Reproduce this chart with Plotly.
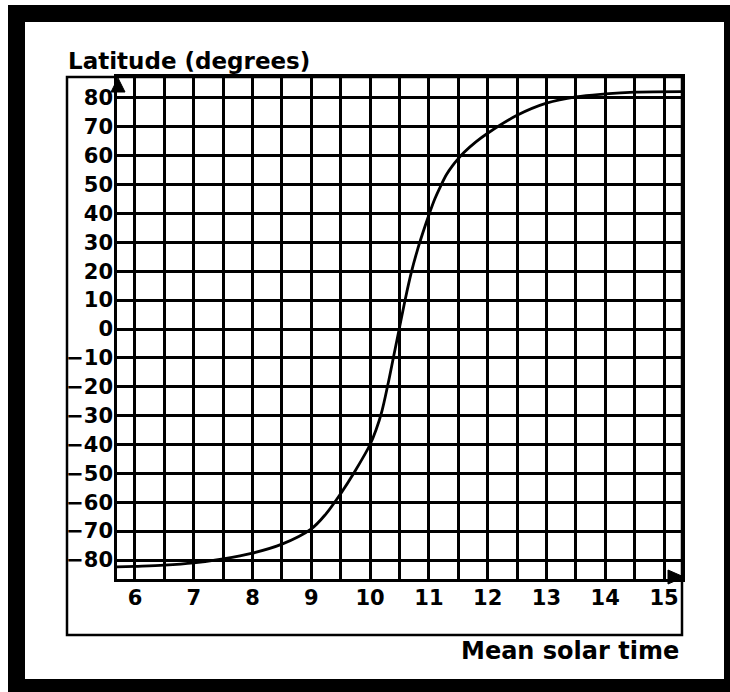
import plotly.graph_objects as go

# Latitude of the sub-point versus mean solar time
solar_time = [5.69, 6.0, 6.5, 7.0, 7.5, 8.0, 8.5, 9.0, 9.25, 9.5, 9.75, 10.0,
              10.1, 10.2, 10.3, 10.4, 10.5, 10.6, 10.7, 10.8, 10.9, 11.0, 11.1,
              11.2, 11.3, 11.4, 11.5, 11.6, 11.8, 12.0, 12.5, 13.0, 13.5, 14.0,
              14.5, 15.31]
latitude = [-82.4, -82.2, -81.8, -81.0, -79.6, -77.6, -74.5, -69.2, -64.0, -57.0,
            -49.0, -40.0, -35.0, -28.5, -19.5, -9.5, 0.5, 10.5, 19.5, 27.0, 33.5,
            39.5, 45.0, 49.5, 53.5, 56.5, 59.0, 61.2, 64.8, 67.8, 74.0, 78.2,
            80.4, 81.4, 82.0, 82.2]

hour_ticks = [6, 7, 8, 9, 10, 11, 12, 13, 14, 15]
lat_ticks = [80, 70, 60, 50, 40, 30, 20, 10, 0, -10, -20, -30, -40, -50, -60, -70, -80]

x_range = [5.694, 15.306]
y_range = [-86.58, 87.27]

half_hours = [h + d for h in hour_ticks for d in (0.0, 0.5)][:-1]
half_text = [str(int(v)) if float(v).is_integer() else "" for v in half_hours]
lat_text = [("\u2212" + str(-v)) if v < 0 else str(v) for v in lat_ticks]

FONT = "DejaVu Sans"
W, H = 730, 692
L, R, T, B = 117, 48, 77, 113
PW, PH = W - L - R, H - T - B


def px(xp):
    return (xp - L) / PW


def py(yp):
    return 1 - (yp - T) / PH


fig = go.Figure()
fig.add_trace(go.Scatter(
    x=solar_time, y=latitude, mode="lines",
    line=dict(color="black", width=2.8, shape="spline", smoothing=1.0),
    hoverinfo="skip", showlegend=False,
))

shapes = []
# heavy outer frame
for x0, y0, x1, y1 in [(8, 5, 25, 692), (8, 5, 730, 22), (724, 5, 730, 692), (8, 679, 730, 692)]:
    shapes.append(dict(type="rect", xref="paper", yref="paper",
                       x0=px(x0), x1=px(x1), y0=py(y1), y1=py(y0),
                       fillcolor="black", line=dict(width=0), layer="above"))
# inner box
shapes.append(dict(type="rect", xref="paper", yref="paper",
                   x0=px(67), x1=px(682), y0=py(635), y1=py(77),
                   line=dict(color="black", width=2.5), fillcolor="rgba(0,0,0,0)"))
# axis arrow heads
shapes.append(dict(type="path", xref="paper", yref="paper",
                   path=f"M {px(118)},{py(78)} L {px(111)},{py(92)} L {px(125)},{py(92)} Z",
                   fillcolor="black", line=dict(color="black", width=1), layer="above"))
shapes.append(dict(type="path", xref="paper", yref="paper",
                   path=f"M {px(684)},{py(577)} L {px(668)},{py(570)} L {px(668)},{py(584)} Z",
                   fillcolor="black", line=dict(color="black", width=1), layer="above"))

axis_common = dict(
    showgrid=True, gridcolor="black", gridwidth=2.6,
    showline=True, linecolor="black", linewidth=2.6, mirror=True,
    zeroline=False, ticks="", fixedrange=True,
    tickfont=dict(family=FONT, size=21, color="black", weight="bold"),
)

fig.update_layout(
    width=W, height=H,
    margin=dict(l=L, r=R, t=T, b=B, pad=0),
    paper_bgcolor="white", plot_bgcolor="white",
    showlegend=False,
    xaxis=dict(range=x_range, tickmode="array", tickvals=half_hours, ticktext=half_text,
               ticklabelstandoff=-2, **axis_common),
    yaxis=dict(range=y_range, tickmode="array", tickvals=lat_ticks, ticktext=lat_text,
               ticklabelstandoff=-3, **axis_common),
    shapes=shapes,
    annotations=[
        dict(text="Latitude (degrees)", xref="paper", yref="paper",
             x=px(66), y=py(61), xanchor="left", yanchor="middle", showarrow=False,
             font=dict(family=FONT, size=23, color="black", weight="bold")),
        dict(text="Mean solar time", xref="paper", yref="paper",
             x=px(681), y=py(651), xanchor="right", yanchor="middle", showarrow=False,
             font=dict(family=FONT, size=24, color="black", weight="bold")),
    ],
)

fig.write_html("out.html")
